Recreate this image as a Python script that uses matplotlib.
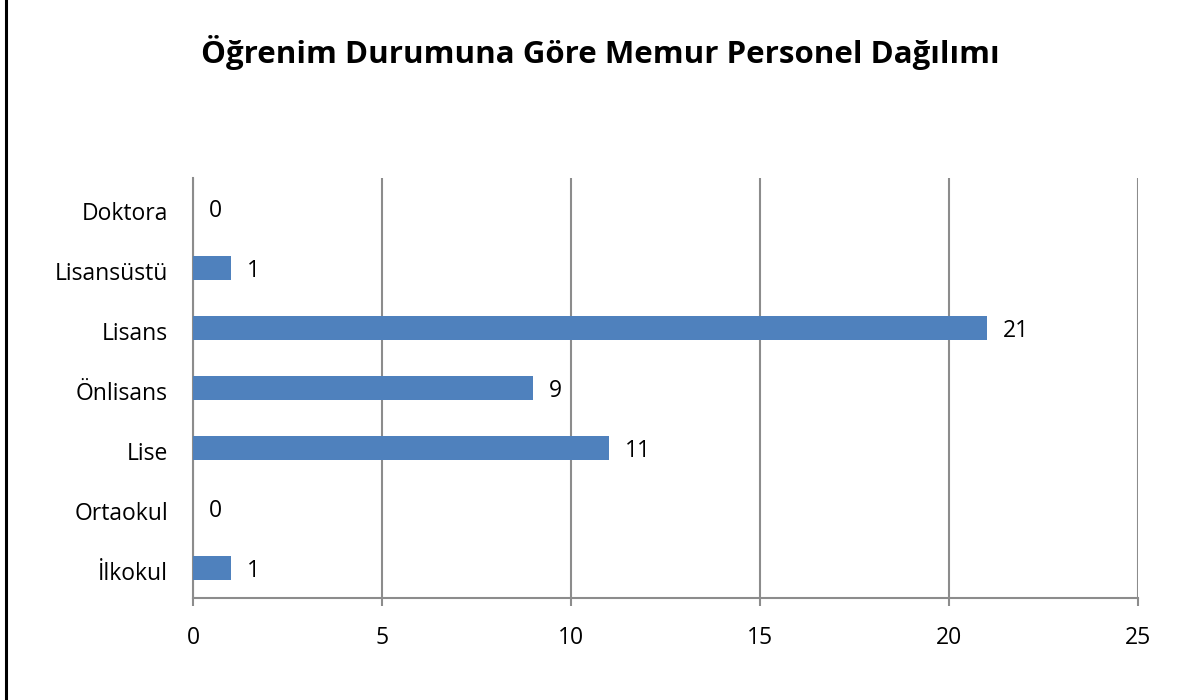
import matplotlib
matplotlib.use("Agg")
import matplotlib.pyplot as plt
import matplotlib.transforms as mtransforms
from matplotlib.lines import Line2D

categories = ["Doktora", "Lisansüstü", "Lisans", "Önlisans", "Lise", "Ortaokul", "İlkokul"]
values = [0, 1, 21, 9, 11, 0, 1]
xticks = [0, 5, 10, 15, 20, 25]
title = "Öğrenim Durumuna Göre Memur Personel Dağılımı"

plt.rcParams['font.family'] = ['Open Sans', 'DejaVu Sans']

W, H = 1189, 700
fig = plt.figure(figsize=(W/100, H/100), dpi=100)
ax = fig.add_axes([193/W, 1-598/H, (1138-193)/W, (598-178)/H])

fs = 16.5
ypos = list(range(len(categories)))
ax.barh(ypos, values, height=0.4, color="#4F81BD", zorder=3)
for y, v in zip(ypos, values):
    ax.annotate(str(v), xy=(v, y), xytext=(11.5, -2.5), textcoords="offset points",
                va="center", ha="left", fontsize=fs, color="black")

ax.set_xlim(0, 25)
ax.set_ylim(len(categories) - 0.5, -0.5)
ax.set_yticks(ypos)
ax.set_yticklabels(categories, fontsize=fs)
ax.set_xticks(xticks)
ax.set_xticklabels([str(t) for t in xticks], fontsize=fs)
ax.tick_params(axis="y", length=0, pad=18)
ax.tick_params(axis="x", length=6, width=1.5, color="#8c8c8c", pad=14)
shift = mtransforms.ScaledTranslation(0, -3/100, fig.dpi_scale_trans)
for lab in ax.get_yticklabels():
    lab.set_transform(lab.get_transform() + shift)
ax.grid(axis="x", color="#8c8c8c", linewidth=1.5, zorder=0)
for s in ["top", "right"]:
    ax.spines[s].set_visible(False)
for s in ["left", "bottom"]:
    ax.spines[s].set_color("#8c8c8c")
    ax.spines[s].set_linewidth(1.5)

fig.text(600/W, 1-52/H, title, ha="center", va="center", fontsize=22.5, fontweight="bold")
fig.add_artist(Line2D([6/W, 6/W], [0, 1], color="black", linewidth=2.2, transform=fig.transFigure))

fig.savefig("out.png", dpi=100)
